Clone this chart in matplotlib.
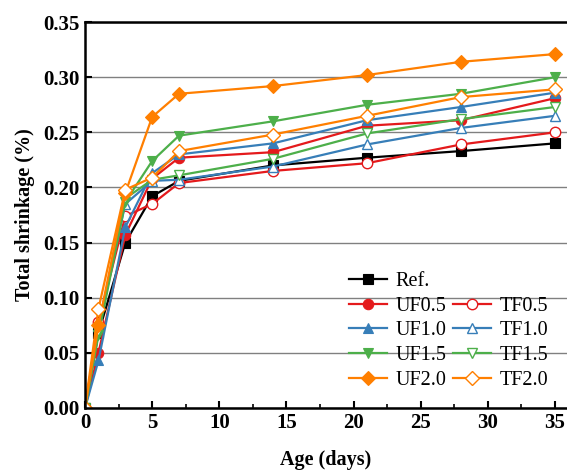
import numpy as np
import matplotlib.pyplot as plt
from matplotlib.ticker import MultipleLocator
from matplotlib.lines import Line2D

plt.rcParams['font.family'] = ['Liberation Serif', 'DejaVu Serif']

# curing age (days)
age = [0, 1, 3, 5, 7, 14, 21, 28, 35]

# total shrinkage (%)
ref   = [0, 0.068, 0.150, 0.192, 0.206, 0.220, 0.227, 0.233, 0.240]
uf05  = [0, 0.050, 0.157, 0.208, 0.227, 0.232, 0.256, 0.261, 0.281]
tf05  = [0, 0.078, 0.174, 0.185, 0.204, 0.215, 0.222, 0.239, 0.250]
uf10  = [0, 0.043, 0.164, 0.213, 0.230, 0.240, 0.261, 0.273, 0.286]
tf10  = [0, 0.074, 0.185, 0.206, 0.207, 0.219, 0.239, 0.254, 0.265]
uf15  = [0, 0.066, 0.187, 0.224, 0.247, 0.260, 0.275, 0.285, 0.300]
tf15  = [0, 0.070, 0.190, 0.207, 0.211, 0.226, 0.249, 0.262, 0.273]
uf20  = [0, 0.075, 0.195, 0.264, 0.285, 0.292, 0.302, 0.314, 0.321]
tf20  = [0, 0.090, 0.198, 0.209, 0.233, 0.248, 0.265, 0.282, 0.289]

red, blue, green, orange = '#e41a1c', '#377eb8', '#4daf4a', '#ff7f00'

fig = plt.figure(figsize=(5.67, 4.71), dpi=100)
ax = fig.add_axes([0.150, 0.134, 0.85, 0.819])

def line(y, color, marker, label, filled=True, ms=7.5):
    face = color if filled else 'white'
    mew = 0.8 if filled else 1.0
    h, = ax.plot(age, y, color=color, lw=1.6, marker=marker, ms=ms,
                 mfc=face, mec=color, mew=mew, label=label)
    return h

h_ref = line(ref, 'black', 's', 'Ref.', ms=7)
h_u05 = line(uf05, red, 'o', 'UF0.5')
h_t05 = line(tf05, red, 'o', 'TF0.5', filled=False)
h_u10 = line(uf10, blue, '^', 'UF1.0')
h_t10 = line(tf10, blue, '^', 'TF1.0', filled=False)
h_u15 = line(uf15, green, 'v', 'UF1.5')
h_t15 = line(tf15, green, 'v', 'TF1.5', filled=False)
h_u20 = line(uf20, orange, 'D', 'UF2.0', ms=7)
h_t20 = line(tf20, orange, 'D', 'TF2.0', filled=False, ms=7)

# empty slot so that Ref. sits alone on the first row
blank = Line2D([], [], linestyle='none', label=' ')
handles = [h_ref, h_u05, h_u10, h_u15, h_u20, blank, h_t05, h_t10, h_t15, h_t20]
ax.legend(handles=handles, ncol=2, frameon=False, loc='lower right',
          bbox_to_anchor=(0.99, 0.01), fontsize=14.5, labelspacing=0.28,
          handlelength=1.9, handletextpad=0.4, columnspacing=0.35, borderpad=0.2)

ax.set_xlim(0, 35.9)
ax.set_ylim(0, 0.35)
ax.xaxis.set_major_locator(MultipleLocator(5))
ax.xaxis.set_minor_locator(MultipleLocator(2.5))
ax.yaxis.set_major_locator(MultipleLocator(0.05))
ax.yaxis.set_major_formatter(plt.FormatStrFormatter('%.2f'))

ax.grid(axis='y', color='#808080', lw=1.0)
ax.set_axisbelow(True)

for s in ['left', 'bottom', 'top']:
    ax.spines[s].set_linewidth(1.8)
ax.spines['right'].set_visible(False)

ax.tick_params(which='major', direction='in', length=5, width=1.5,
               labelsize=15, pad=4)
ax.tick_params(which='minor', direction='in', length=3, width=1.2)
ax.tick_params(axis='x', which='both', top=False)
for t in ax.get_xticklabels() + ax.get_yticklabels():
    t.set_fontweight('bold')

ax.set_xlabel('Age (days)', fontsize=14.5, fontweight='bold', labelpad=12)
ax.set_ylabel('Total shrinkage (%)', fontsize=14.5, fontweight='bold', labelpad=6)

fig.savefig('out.png', dpi=100)
